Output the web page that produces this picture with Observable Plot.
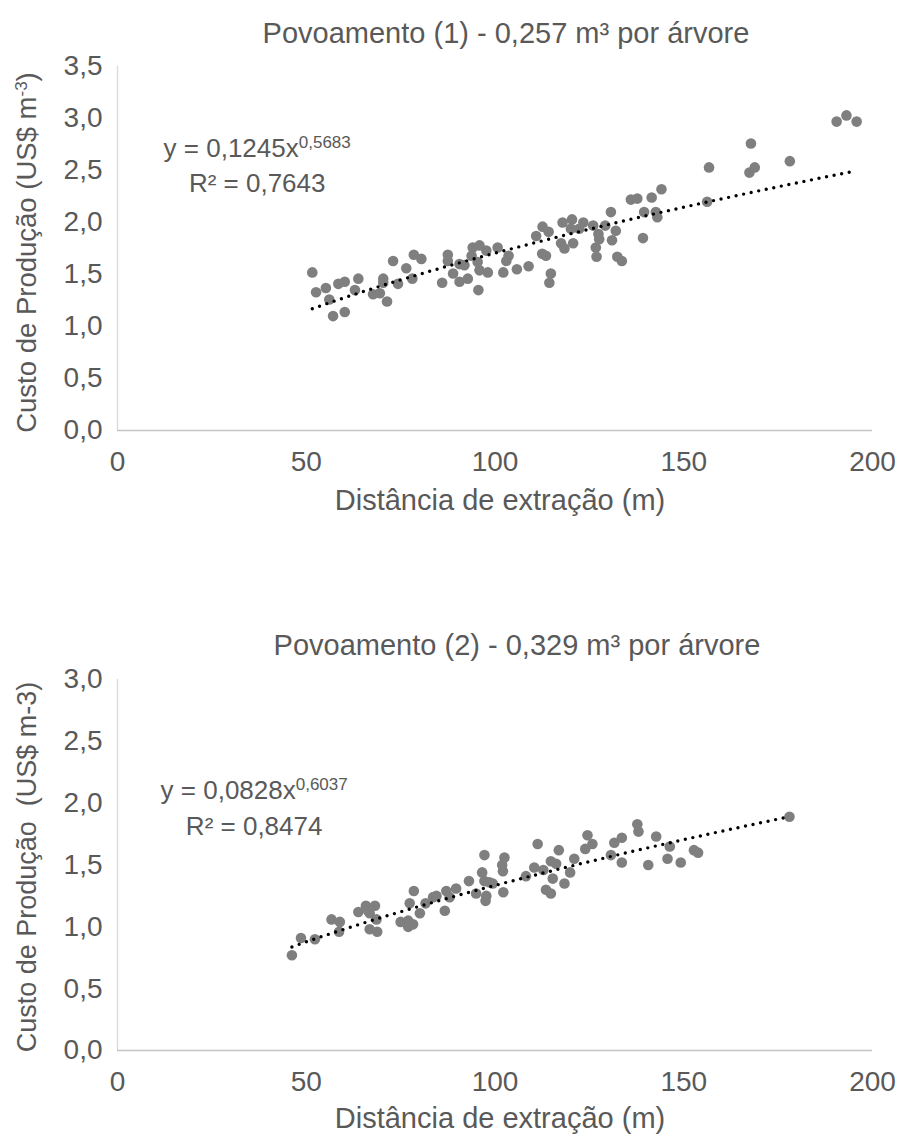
<!DOCTYPE html>
<html>
<head>
<meta charset="utf-8">
<script src="https://cdn.jsdelivr.net/npm/d3@7"></script>
<script src="https://cdn.jsdelivr.net/npm/@observablehq/plot@0.6"></script>
<style>
  html, body { margin: 0; padding: 0; background: #fff; }
  #root { width: 908px; }
  #root svg { display: block; }
</style>
</head>
<body>
<div id="root"></div>
<script>
// ---------- DATA ----------
const xTicks = [0, 50, 100, 150, 200];
const yTicks1 = [0, 0.5, 1, 1.5, 2, 2.5, 3, 3.5];
const yTicks2 = [0, 0.5, 1, 1.5, 2, 2.5, 3];

const titles = ["Povoamento (1) - 0,257 m³ por árvore", "Povoamento (2) - 0,329 m³ por árvore"];
const xLabel = "Distância de extração (m)";
const yLabels = ["Custo de Produção (US$ m^-3^)", "Custo de Produção\u00a0 (US$ m-3)"];
const equations = ["y = 0,1245x^0,5683^", "y = 0,0828x^0,6037^"];
const r2Labels = ["R² = 0,7643", "R² = 0,8474"];
const trendA = [0.1245, 0.0828];
const trendB = [0.5683, 0.6037];

// Povoamento (1)
const dist1 = [51.6,52.6,55.2,56.1,57.1,60.2,58.5,60.2,63.8,62.9,67.7,69.5,71.4,70.4,70.4,73.0,74.3,76.5,78.1,78.5,
  80.5,86.0,87.5,87.5,88.9,90.6,90.6,92.8,95.6,94.1,95.9,97.7,100.7,95.9,98.1,95.4,93.8,91.9,103.0,103.6,
  102.2,105.8,108.9,110.9,112.6,112.5,113.5,114.2,114.8,114.4,117.9,117.5,118.4,120.4,120.7,120.1,122.3,123.4,126.0,127.4,
  127.6,126.7,126.9,129.2,131.0,132.0,130.7,132.4,133.6,136.0,137.7,139.2,139.5,141.5,142.6,143.0,144.1,156.2,156.7,167.4,
  168.8,167.8,178.1,190.5,193.1,195.8];
const cost1 = [1.52,1.33,1.37,1.26,1.10,1.14,1.41,1.43,1.46,1.35,1.31,1.32,1.24,1.46,1.42,1.63,1.41,1.56,1.46,1.69,
  1.65,1.42,1.69,1.63,1.51,1.43,1.60,1.46,1.35,1.76,1.78,1.73,1.76,1.54,1.52,1.62,1.68,1.59,1.63,1.68,
  1.52,1.55,1.58,1.87,1.96,1.70,1.68,1.91,1.51,1.42,2.00,1.80,1.75,2.03,1.80,1.94,1.94,2.00,1.97,1.89,
  1.84,1.76,1.67,1.97,1.83,1.92,2.10,1.67,1.63,2.22,2.23,1.85,2.10,2.24,2.10,2.05,2.32,2.20,2.53,2.48,
  2.53,2.76,2.59,2.97,3.03,2.97];

// Povoamento (2)
const dist2 = [46.2,48.6,52.3,56.7,58.9,58.7,63.8,65.8,68.2,66.8,68.6,66.4,66.8,68.8,75.0,77.0,78.3,77.0,80.1,77.4,
  78.5,81.6,83.6,84.5,86.7,87.1,89.7,88.0,93.1,95.0,97.2,96.6,97.2,98.5,99.4,97.7,97.5,102.5,101.9,102.1,
  102.2,108.2,110.4,111.3,112.8,114.8,116.2,115.3,113.5,114.8,116.9,118.4,119.9,121.0,123.9,124.5,125.8,130.7,131.6,133.6,
  133.6,137.7,138.0,140.6,142.7,146.3,145.7,149.2,152.7,153.8,178.0];
const cost2 = [0.77,0.91,0.90,1.06,1.04,0.96,1.12,1.17,1.17,1.11,1.06,1.13,0.98,0.96,1.04,1.05,1.02,1.00,1.11,1.19,
  1.29,1.19,1.24,1.25,1.13,1.29,1.31,1.24,1.37,1.27,1.58,1.44,1.37,1.36,1.35,1.25,1.21,1.56,1.50,1.45,
  1.28,1.41,1.48,1.67,1.46,1.53,1.51,1.39,1.30,1.27,1.62,1.35,1.44,1.55,1.63,1.74,1.67,1.58,1.68,1.72,
  1.52,1.83,1.77,1.50,1.73,1.65,1.55,1.52,1.62,1.60,1.89];

// ---------- STYLE ----------
const FONT = "'Liberation Sans', Arial, Helvetica, sans-serif";
const GREY = "#595959";
const fmt = d => d.toFixed(1).replace(".", ",");

function supify(svg, supSize, shift) {
  svg.querySelectorAll("text").forEach(t => {
    const s = t.textContent;
    if (!s.includes("^")) return;
    const parts = s.split("^");
    while (t.firstChild) t.removeChild(t.firstChild);
    let inSup = false, pending = 0;
    parts.forEach((p, i) => {
      const isSup = i % 2 === 1;
      if (isSup !== inSup) { pending += isSup ? -shift : shift; inSup = isSup; }
      if (!p) return;
      const ts = document.createElementNS("http://www.w3.org/2000/svg", "tspan");
      ts.textContent = p;
      if (pending) { ts.setAttribute("dy", pending + "px"); pending = 0; }
      if (isSup) ts.setAttribute("font-size", supSize + "px");
      t.appendChild(ts);
    });
  });
}

function makeChart(k, cfg) {
  const dist = k === 0 ? dist1 : dist2;
  const cost = k === 0 ? cost1 : cost2;
  const yTicks = k === 0 ? yTicks1 : yTicks2;
  const yMax = d3.max(yTicks);
  const pts = dist.map((d, i) => ({x: d, y: cost[i]}));
  const x0 = d3.min(dist), x1 = d3.max(dist);
  const trend = d3.range(0, 301).map(i => x0 + (x1 - x0) * i / 300)
    .map(x => ({x, y: trendA[k] * Math.pow(x, trendB[k])}));
  const eqs = [
    {x: cfg.eqX, y: cfg.eqY1, t: equations[k]},
    {x: cfg.eqX, y: cfg.eqY2, t: r2Labels[k]}
  ];

  const svg = Plot.plot({
    width: 908,
    height: cfg.height,
    marginLeft: 117,
    marginRight: 36,
    marginTop: cfg.marginTop,
    marginBottom: cfg.marginBottom,
    style: {fontFamily: FONT, fontSize: "28px", color: GREY, background: "#fff", overflow: "visible"},
    x: {domain: [0, 200]},
    y: {domain: [0, yMax]},
    marks: [
      Plot.ruleX([0], {y1: 0, y2: yMax, stroke: "#d9d9d9", strokeWidth: 1.3}),
      Plot.ruleY([0], {x1: 0, x2: 200, stroke: "#c4c4c4", strokeWidth: 1.5}),
      Plot.dot(pts, {x: "x", y: "y", r: 5.3, fill: "#7f7f7f", stroke: "none"}),
      Plot.line(trend, {x: "x", y: "y", stroke: "#000", strokeWidth: 3.4,
        strokeDasharray: "0 7.7", strokeLinecap: "round"}),
      Plot.axisX({ticks: xTicks, tickSize: 0, tickPadding: 21, label: null, tickFormat: d => String(d)}),
      Plot.axisY({ticks: yTicks, tickSize: 0, tickPadding: 15, label: null, tickFormat: fmt}),
      Plot.text([titles[k]], {text: d => d, frameAnchor: "top", lineAnchor: "middle",
        dx: cfg.titleDx, dy: -cfg.titleDy, fontSize: 29, fill: GREY}),
      Plot.text([xLabel], {text: d => d, frameAnchor: "bottom", lineAnchor: "middle",
        dx: 5, dy: cfg.xLabelDy, fontSize: 29, fill: GREY}),
      Plot.text([yLabels[k]], {text: d => d, frameAnchor: "left", textAnchor: "middle", lineAnchor: "middle",
        dx: -90, dy: cfg.yLabelDy, rotate: -90, fontSize: cfg.yLabelSize, fill: GREY}),
      Plot.text(eqs, {x: "x", y: "y", text: "t", fontSize: 26, fill: GREY})
    ]
  });
  supify(svg, 17, 9);
  return svg;
}

const root = document.getElementById("root");
root.appendChild(makeChart(0, {
  height: 560, marginTop: 66, marginBottom: 130,
  titleDx: 11, titleDy: 33, xLabelDy: 70, yLabelDy: 4, yLabelSize: 27.5,
  eqX: 37, eqY1: 2.71, eqY2: 2.37
}));
root.appendChild(makeChart(1, {
  height: 580, marginTop: 119, marginBottom: 90,
  titleDx: 22, titleDy: 34, xLabelDy: 68, yLabelDy: 2, yLabelSize: 27,
  eqX: 36.2, eqY1: 2.10, eqY2: 1.81
}));
</script>
</body>
</html>
